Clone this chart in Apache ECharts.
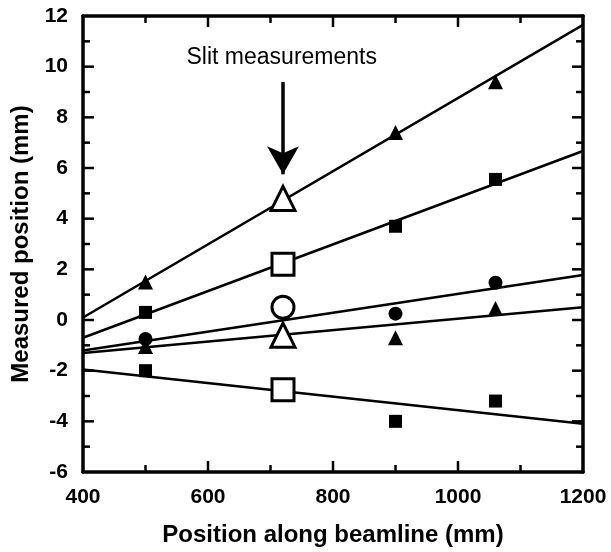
<!DOCTYPE html>
<html><head><meta charset="utf-8">
<script src="https://cdn.jsdelivr.net/npm/echarts@6/dist/echarts.min.js"></script>
<style>html,body{margin:0;padding:0;background:#fff}#c{width:611px;height:552px}</style>
</head><body><div id="c"></div>
<script>
// Data
const xTicks = [400, 600, 800, 1000, 1200];
const yTicks = [-6, -4, -2, 0, 2, 4, 6, 8, 10, 12];
const fitX = [400, 1200];
// filled measurements (x=500, 900, 1060) and open slit measurement (x=720)
const s1Filled = [[500, 1.5], [900, 7.4], [1060, 9.4]];
const s1Slit = [720, 4.8];
const s1Fit = [0.1, 11.65];
const s2Filled = [[500, 0.3], [900, 3.7], [1060, 5.55]];
const s2Slit = [720, 2.2];
const s2Fit = [-0.7, 6.67];
const s3Filled = [[500, -0.75], [900, 0.25], [1060, 1.47]];
const s3Slit = [720, 0.5];
const s3Fit = [-1.2, 1.78];
const s4Filled = [[500, -1.05], [900, -0.7], [1060, 0.45]];
const s4Slit = [720, -0.6];
const s4Fit = [-1.3, 0.5];
const s5Filled = [[500, -2.0], [900, -4.0], [1060, -3.2]];
const s5Slit = [720, -2.75];
const s5Fit = [-1.95, -4.1];
const arrowFrom = [720, 9.4];
const arrowTo = [720, 5.75];
const annotText = 'Slit measurements';
const annotPos = [718, 10.35];

const FONT = '"Liberation Sans", Arial, sans-serif';
const xMin = xTicks[0], xMax = xTicks[xTicks.length - 1];
const yMin = yTicks[0], yMax = yTicks[yTicks.length - 1];
const chart = echarts.init(document.getElementById('c'), null, {renderer: 'canvas'});

// tick positions (axis decoration): majors from tick lists, minors halfway between
function tickData(list, isX) {
  const out = [];
  for (let i = 0; i < list.length; i++) {
    if (i > 0 && i < list.length - 1) out.push(isX ? [list[i], yMin, 1] : [xMin, list[i], 1]);
    if (i < list.length - 1) {
      const m = (list[i] + list[i + 1]) / 2;
      out.push(isX ? [m, yMin, 0] : [xMin, m, 0]);
    }
  }
  return out;
}
function tickSeries(isX) {
  return {
    type: 'custom', silent: true, clip: false, z: 6,
    data: tickData(isX ? xTicks : yTicks, isX),
    renderItem: function (params, api) {
      const major = api.value(2) === 1;
      const len = major ? 11 : 7;
      const style = {stroke: '#000', lineWidth: 2.5};
      if (isX) {
        const v = api.value(0);
        const b = api.coord([v, yMin]), t = api.coord([v, yMax]);
        return {type: 'group', children: [
          {type: 'line', shape: {x1: b[0], y1: b[1], x2: b[0], y2: b[1] - len}, style: style},
          {type: 'line', shape: {x1: t[0], y1: t[1], x2: t[0], y2: t[1] + len}, style: style}]};
      }
      const v = api.value(1);
      const l = api.coord([xMin, v]), r = api.coord([xMax, v]);
      return {type: 'group', children: [
        {type: 'line', shape: {x1: l[0], y1: l[1], x2: l[0] + len, y2: l[1]}, style: style},
        {type: 'line', shape: {x1: r[0], y1: r[1], x2: r[0] - len, y2: r[1]}, style: style}]};
    }
  };
}

function fitLine(fit) {
  return {type: 'line', data: [[fitX[0], fit[0]], [fitX[1], fit[1]]], symbol: 'none',
    lineStyle: {color: '#000', width: 2.5, opacity: 1}, z: 2, silent: true, clip: true};
}
function filled(data, sym, size) {
  return {type: 'scatter', data: data, symbol: sym, symbolSize: size,
    itemStyle: {color: '#000', opacity: 1}, z: 3};
}
function open(pt, sym, size) {
  return {type: 'scatter', data: [pt], symbol: sym, symbolSize: size,
    itemStyle: {color: '#fff', borderColor: '#000', borderWidth: 3, opacity: 1}, z: 4};
}
function mkAxis(kind, pos, list, showLabels, extra) {
  const ax = {
    type: 'value', min: list[0], max: list[list.length - 1], interval: list[1] - list[0], position: pos,
    axisLine: {show: true, onZero: false, lineStyle: {color: '#000', width: 3.5}},
    axisTick: {show: false}, minorTick: {show: false},
    splitLine: {show: false}, minorSplitLine: {show: false},
    axisLabel: showLabels ? {show: true, color: '#000', fontFamily: FONT, fontSize: 21,
      fontWeight: 'bold', margin: kind === 'x' ? 15 : 15, formatter: function (v) { return String(v); }}
      : {show: false}
  };
  return Object.assign(ax, extra || {});
}

const option = {
  animation: false,
  backgroundColor: '#fff',
  grid: {left: 83, right: 28, top: 16, bottom: 73},
  xAxis: [
    mkAxis('x', 'bottom', xTicks, true, {
      name: 'Position along beamline (mm)', nameLocation: 'middle', nameGap: 51,
      nameTextStyle: {color: '#000', fontFamily: FONT, fontSize: 24, fontWeight: 'bold'}}),
    mkAxis('x', 'top', xTicks, false)
  ],
  yAxis: [
    mkAxis('y', 'left', yTicks, true, {
      name: 'Measured position (mm)', nameLocation: 'middle', nameGap: 49,
      nameTextStyle: {color: '#000', fontFamily: FONT, fontSize: 24, fontWeight: 'bold'}}),
    mkAxis('y', 'right', yTicks, false)
  ],
  series: [
    tickSeries(true), tickSeries(false),
    fitLine(s1Fit), fitLine(s2Fit), fitLine(s3Fit), fitLine(s4Fit), fitLine(s5Fit),
    filled(s1Filled, 'triangle', 15), filled(s2Filled, 'rect', 13),
    filled(s3Filled, 'circle', 14), filled(s4Filled, 'triangle', 15),
    filled(s5Filled, 'rect', 13),
    open(s1Slit, 'triangle', 24), open(s2Slit, 'rect', 22), open(s3Slit, 'circle', 22),
    open(s4Slit, 'triangle', 24), open(s5Slit, 'rect', 22),
    {type: 'line', data: [], markLine: {
      silent: true, symbol: ['none', 'arrow'], symbolSize: [24, 28],
      lineStyle: {color: '#000', width: 3.5, type: 'solid', opacity: 1}, label: {show: false},
      data: [[{coord: arrowFrom}, {coord: arrowTo}]]
    }, markPoint: {
      symbol: 'rect', symbolSize: 1, itemStyle: {color: 'rgba(0,0,0,0)'},
      label: {show: true, position: 'inside', formatter: annotText, color: '#000',
        fontFamily: FONT, fontSize: 23, fontWeight: 'normal'},
      data: [{coord: annotPos}]
    }}
  ]
};
chart.setOption(option);
</script></body></html>
